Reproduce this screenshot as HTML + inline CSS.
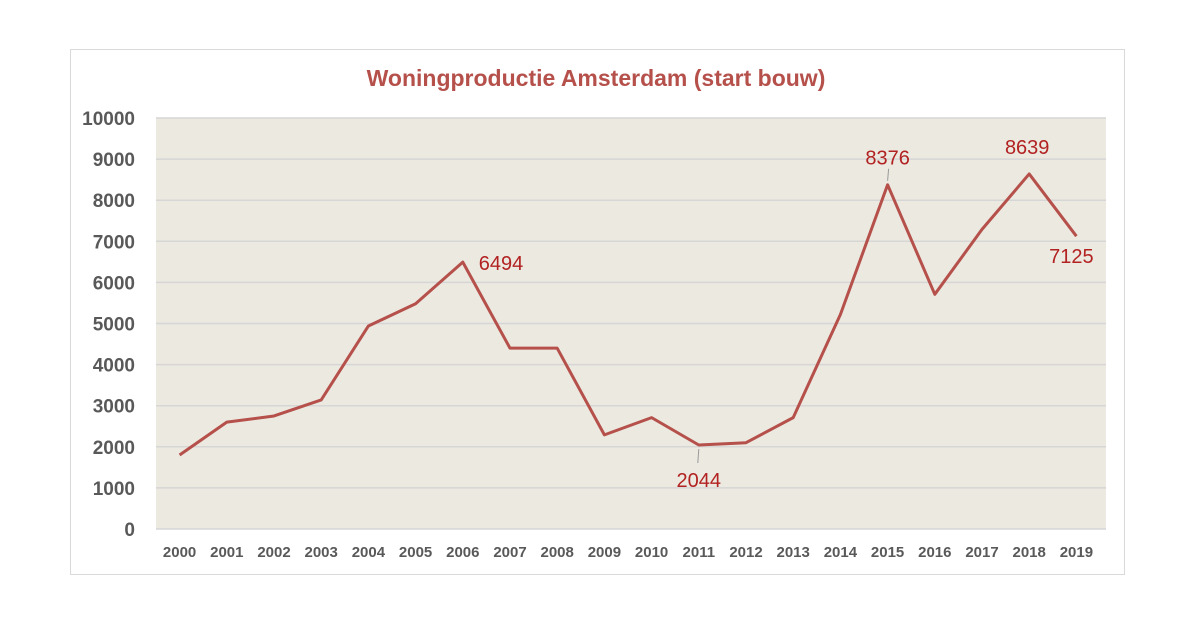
<!DOCTYPE html>
<html><head><meta charset="utf-8"><style>
body{margin:0;background:#fff;width:1200px;height:639px;overflow:hidden;font-family:"Liberation Sans",sans-serif}
</style></head><body>
<svg width="1200" height="639" xmlns="http://www.w3.org/2000/svg">
<rect x="70.5" y="49.5" width="1054" height="525" fill="#fff" stroke="#d9d9d9"/>
<text x="596" y="86" text-anchor="middle" font-size="23" font-weight="bold" fill="#b5504b">Woningproductie Amsterdam (start bouw)</text>
<rect x="156" y="118" width="950" height="411" fill="#ece9e0"/>
<g id="grid"></g><g id="ylab"></g><g id="xlab"></g><g id="series"></g><g id="labels"></g>
</svg>
<script>
const years=["2000","2001","2002","2003","2004","2005","2006","2007","2008","2009","2010","2011","2012","2013","2014","2015","2016","2017","2018","2019"];
const values=[1800,2600,2750,3140,4940,5480,6494,4400,4400,2290,2710,2044,2100,2710,5220,8376,5710,7290,8639,7125];
const yTicks=[0,1000,2000,3000,4000,5000,6000,7000,8000,9000,10000];
const labeled=[6,11,15,18,19];
const NS="http://www.w3.org/2000/svg";
const L=156,R=1100,T=118,B=529,MAX=10000;
const x=i=>L+(R-L)/years.length*(i+0.5);
const y=v=>B-(B-T)*v/MAX;
function mk(t,a,p){const e=document.createElementNS(NS,t);for(const k in a)e.setAttribute(k,a[k]);document.getElementById(p).appendChild(e);return e;}
yTicks.forEach(v=>{
 const g=mk('line',{x1:L,x2:1106,y1:y(v),y2:y(v),stroke:'#d6d6d6','stroke-width':1.5},'grid');
 
 
 const t=mk('text',{x:135,y:y(v)+7,'text-anchor':'end','font-size':19,'font-weight':'bold',fill:'#595959'},'ylab');
 t.textContent=v;
 
 
});
years.forEach((yr,i)=>{
 const t=mk('text',{x:x(i),y:557,'text-anchor':'middle','font-size':15,'font-weight':'bold',fill:'#595959'},'xlab');
 t.textContent=yr;
 
 
});
const pl=mk('polyline',{points:values.map((v,i)=>x(i)+','+y(v)).join(' '),fill:'none',stroke:'#b5504b','stroke-width':3,'stroke-linejoin':'round'},'series');


const off={6:[16,8,'start'],11:[0,42,'middle'],15:[0,-20,'middle'],18:[-2,-20,'middle'],19:[-5,27,'middle']};
labeled.forEach(i=>{
 const o=off[i];
 if(i===11||i===15){
  const ln=mk('line',{x1:x(i),x2:x(i)+(i===11?-1:1),y1:y(values[i])+(i===11?4:-4),y2:y(values[i])+(i===11?18:-16),stroke:'#999','stroke-width':1},'labels');
  
  
 }
 const t=mk('text',{x:x(i)+o[0],y:y(values[i])+o[1],'text-anchor':o[2],'font-size':20,fill:'#b22222'},'labels');
 t.textContent=values[i];
 
 
});
</script>
</body></html>
